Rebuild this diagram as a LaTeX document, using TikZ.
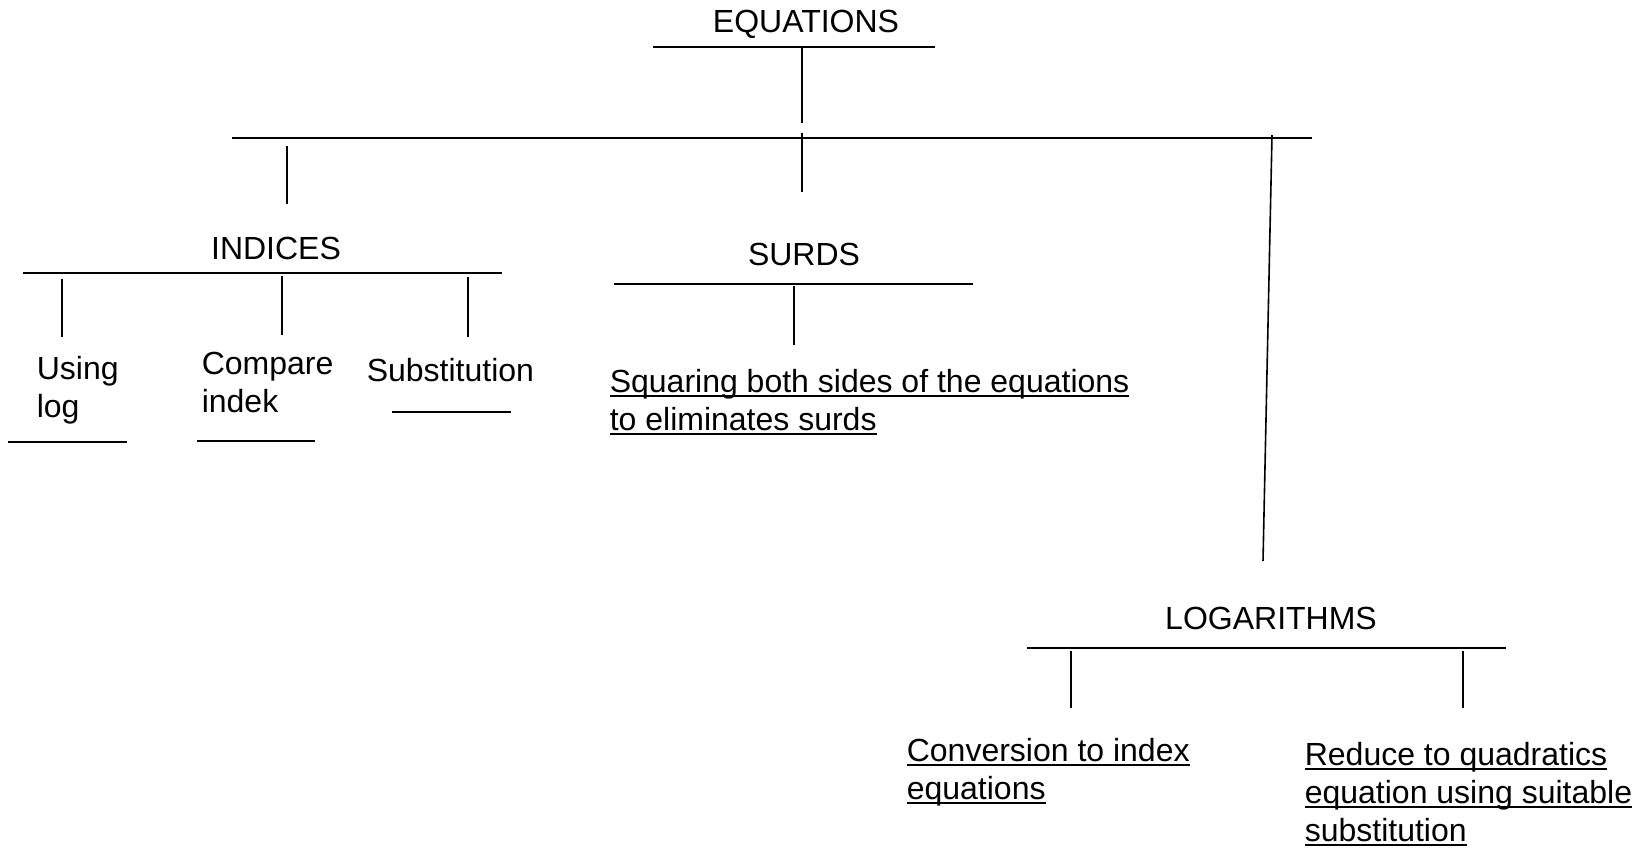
\documentclass[tikz,border=0pt]{standalone}
\usepackage{fontspec}
\setmainfont{Liberation Sans}
\newcommand\ulin[1]{\setbox0\hbox{#1}\rlap{\rule[-4.5pt]{\wd0}{1.8pt}}\box0}
\begin{document}
\begin{tikzpicture}[x=1pt,y=-1pt,line width=1.6pt,
  ttl/.style={font=\fontsize{32}{38}\selectfont,inner sep=0pt},
  lbl/.style={font=\fontsize{32}{38}\selectfont,inner sep=0pt,align=left,anchor=west},
  bar/.style={line width=1.6pt}]
\useasboundingbox (0,0) rectangle (1648,848);
% titles
\node[ttl] (eq) at (806,24) {EQUATIONS};
\node[ttl] (ind) at (276,248) {INDICES};
\node[ttl] (sur) at (804,254) {SURDS};
\node[ttl] (log) at (1271,618) {LOGARITHMS};
% leaves
\node[lbl] (ul) at (36,390) {Using\\log};
\node[lbl] (ci) at (201,382) {Compare\\indek};
\node[lbl] (sb) at (366,370) {Substitution};
\node[lbl] (sq) at (609,402) {\ulin{Squaring both sides of the equations}\\\ulin{to eliminates surds}};
\node[lbl] (cv) at (906,772) {\ulin{Conversion to index}\\\ulin{equations}};
\node[lbl] (rq) at (1304,794) {\ulin{Reduce to quadratics}\\\ulin{equation using suitable}\\\ulin{substitution}};
% bars
\coordinate (eqL) at (653,47); \coordinate (eqR) at (935,47);
\coordinate (mL) at (232,138); \coordinate (mR) at (1312,138);
\coordinate (inL) at (23,273); \coordinate (inR) at (502,273);
\coordinate (suL) at (614,284); \coordinate (suR) at (973,284);
\coordinate (loL) at (1027,648); \coordinate (loR) at (1506,648);
\draw[bar] (eqL) -- (eqR);
\draw[bar] (mL) -- (mR);
\draw[bar] (inL) -- (inR);
\draw[bar] (suL) -- (suR);
\draw[bar] (loL) -- (loR);
\draw[bar] (8,442) -- (127,442);
\draw[bar] (197,441) -- (315,441);
\draw[bar] (392,412) -- (511,412);
% verticals
\draw (802,47) -- (802,123);
\draw (802,133) -- (802,192);
\draw (287,146) -- (287,204);
\draw (1272,135) -- (1263,561);
\draw (62,279) -- (62,337);
\draw (282,276) -- (282,335);
\draw (468,277) -- (468,337);
\draw (794,286) -- (794,345);
\draw (1071,651) -- (1071,708);
\draw (1463,651) -- (1463,708);
\end{tikzpicture}
\end{document}
